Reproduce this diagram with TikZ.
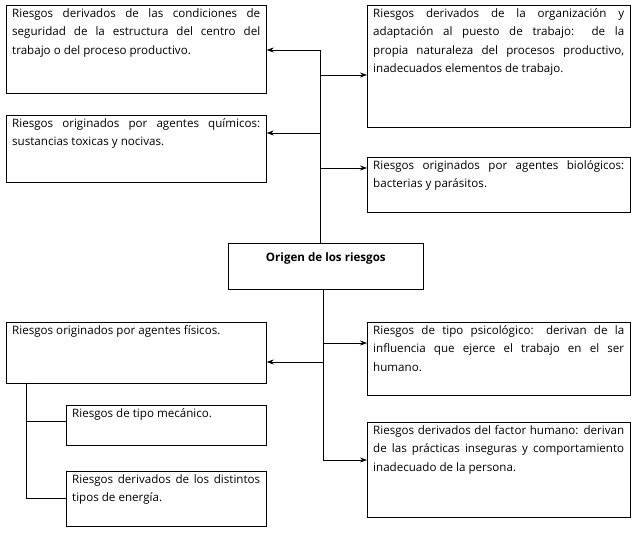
\documentclass[tikz,border=0pt]{standalone}
\usepackage{fontspec}
\setmainfont{Open Sans}
\usetikzlibrary{arrows.meta}
\begin{document}
\begin{tikzpicture}[x=1pt,y=-1pt,
  bx/.style={draw,line width=0.7pt,anchor=north west},
  tx/.style={anchor=north west,inner xsep=6pt,inner ysep=3pt,align=justify,font=\fontsize{11.6}{18.5}\selectfont,execute at begin node={\hyphenpenalty=10000\relax\exhyphenpenalty=10000\relax}},
  ar/.style={-{Stealth[length=7pt,width=5pt]},line width=0.7pt},
  ln/.style={line width=0.7pt}]
\useasboundingbox (0,0) rectangle (633,534);
\node[bx,minimum width=260pt,minimum height=88pt] (a) at (6,5) {};
\node[tx,text width=248pt] (at) at (a.north west) {Riesgos derivados de las condiciones de seguridad de la estructura del centro del trabajo o del proceso productivo.};
\node[bx,minimum width=263pt,minimum height=122pt] (b) at (367,5) {};
\node[tx,text width=251pt] (bt) at (b.north west) {Riesgos derivados de la organización y adaptación al puesto de trabajo: de la propia naturaleza del procesos productivo, inadecuados elementos de trabajo.};
\node[bx,minimum width=260pt,minimum height=67pt] (c) at (6,115) {};
\node[tx,text width=248pt] (ct) at (c.north west) {Riesgos originados por agentes químicos: sustancias toxicas y nocivas.};
\node[bx,minimum width=263pt,minimum height=55pt] (d) at (367,157) {};
\node[tx,text width=251pt] (dt) at (d.north west) {Riesgos originados por agentes biológicos: bacterias y parásitos.};
\node[bx,minimum width=195pt,minimum height=46pt] (e) at (228,243) {};
\node[font=\fontsize{11.6}{18.5}\selectfont\bfseries] (et) at ([yshift=-15pt]e.north) {Origen de los riesgos};
\node[bx,minimum width=260pt,minimum height=61pt] (f) at (6,322) {};
\node[tx,text width=248pt] (ft) at (f.north west) {Riesgos originados por agentes físicos.};
\node[bx,minimum width=263pt,minimum height=73pt] (g) at (367,322) {};
\node[tx,text width=251pt] (gt) at (g.north west) {Riesgos de tipo psicológico: derivan de la influencia que ejerce el trabajo en el ser humano.};
\node[bx,minimum width=200pt,minimum height=40pt] (h) at (66,405) {};
\node[tx,text width=188pt] (ht) at (h.north west) {Riesgos de tipo mecánico.};
\node[bx,minimum width=200pt,minimum height=55pt] (i) at (66,471) {};
\node[tx,text width=188pt] (it) at (i.north west) {Riesgos derivados de los distintos tipos de energía.};
\node[bx,minimum width=263pt,minimum height=95pt] (j) at (367,422) {};
\node[tx,text width=251pt] (jt) at (j.north west) {Riesgos derivados del factor humano: derivan de las prácticas inseguras y comportamiento inadecuado de la persona.};
\coordinate (t1) at (320,50);
\draw[ln] (t1) -- (320,243);
\draw[ar] (t1) -- (a.east|-t1);
\draw[ar] (320,75) -- (b.west|-0,75);
\draw[ar] (320,133) -- (c.east|-0,133);
\draw[ar] (320,168) -- (d.west|-0,168);
\draw[ln] (323,289) -- (323,460);
\draw[ar] (323,343) -- (g.west|-0,343);
\draw[ar] (323,362) -- (f.east|-0,362);
\draw[ar] (323,460) -- (j.west|-0,460);
\draw[ln] (26,383) -- (26,498) -- (i.west|-0,498);
\draw[ln] (26,421) -- (h.west|-0,421);
\end{tikzpicture}
\end{document}
